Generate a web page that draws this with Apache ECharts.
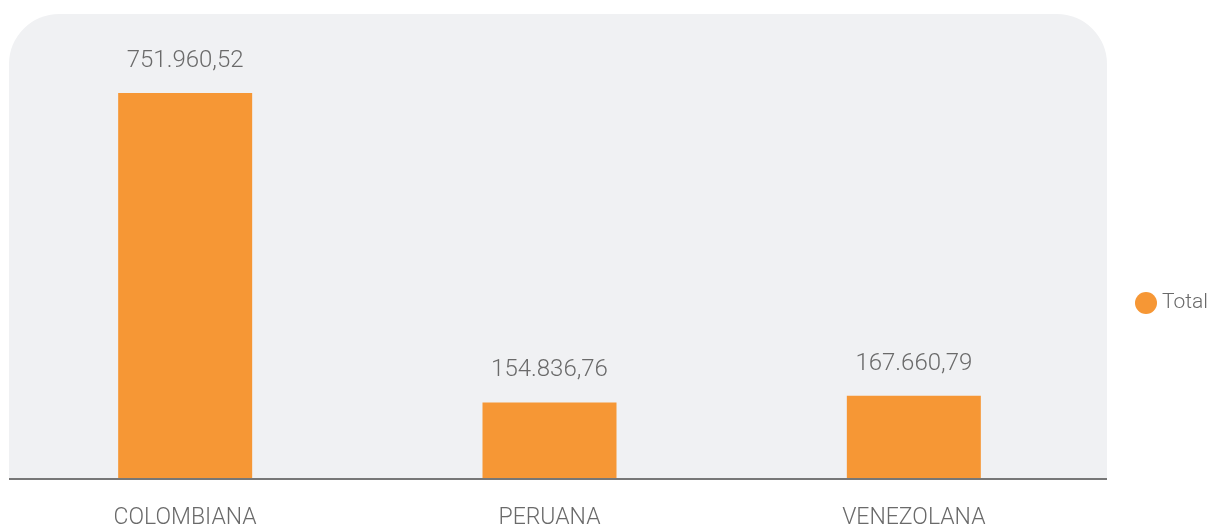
<!DOCTYPE html>
<html>
<head>
<meta charset="utf-8">
<script src="https://cdn.jsdelivr.net/npm/echarts@6/dist/echarts.min.js"></script>
<style>
  html, body { margin: 0; padding: 0; background: #fff; }
  #chart { width: 1209px; height: 526px; }
</style>
</head>
<body>
<div id="chart"></div>
<script>
var categorias = ['COLOMBIANA', 'PERUANA', 'VENEZOLANA'];
var totales = [751960.52, 154836.76, 167660.79];
var serieNombre = 'Total';

var chartDom = document.getElementById('chart');
var myChart = echarts.init(chartDom);

function formatoES(v) {
  var partes = v.toFixed(2).split('.');
  var entero = partes[0].replace(/\B(?=(\d{3})+(?!\d))/g, '.');
  return entero + ',' + partes[1];
}

var fuente = 'Roboto';
var gris = '#6a6a6a';

var option = {
  animation: false,
  textStyle: { fontFamily: fuente },
  graphic: [
    {
      type: 'rect',
      z: -10,
      shape: { x: 9, y: 14, width: 1098, height: 465, r: [50, 50, 0, 0] },
      style: { fill: '#f0f1f3' }
    },
    {
      type: 'line',
      z: 10,
      shape: { x1: 9, y1: 479, x2: 1107, y2: 479 },
      style: { stroke: '#777777', lineWidth: 2 }
    }
  ],
  legend: {
    data: [serieNombre],
    orient: 'vertical',
    left: 1130,
    top: 287,
    icon: 'circle',
    itemWidth: 22,
    itemHeight: 22,
    itemGap: 0,
    textStyle: { color: gris, fontSize: 21, fontWeight: 300, fontFamily: fuente }
  },
  grid: {
    left: 3,
    right: 113,
    top: 93,
    bottom: 47,
    containLabel: false,
    outerBoundsMode: 'none'
  },
  xAxis: {
    type: 'category',
    data: categorias,
    axisLine: { show: false },
    axisTick: { show: false },
    axisLabel: {
      margin: 28,
      color: gris,
      fontSize: 23,
      fontWeight: 300,
      fontFamily: fuente
    }
  },
  yAxis: {
    type: 'value',
    min: 7000,
    max: 751960.52,
    show: false,
    splitLine: { show: false }
  },
  series: [
    {
      name: serieNombre,
      type: 'bar',
      data: totales,
      barWidth: 134,
      itemStyle: { color: '#f69735' },
      label: {
        show: true,
        position: 'top',
        distance: 20,
        color: gris,
        fontSize: 24,
        fontWeight: 300,
        fontFamily: fuente,
        formatter: function (p) { return formatoES(p.value); }
      }
    }
  ]
};

myChart.setOption(option);
</script>
</body>
</html>
